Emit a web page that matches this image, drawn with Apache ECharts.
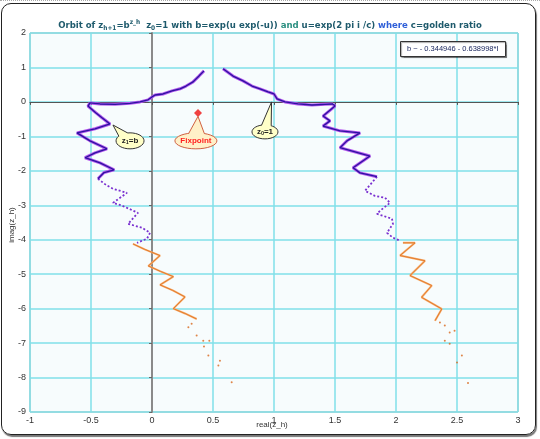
<!DOCTYPE html>
<html><head><meta charset="utf-8">
<script src="https://cdn.jsdelivr.net/npm/echarts/dist/echarts.min.js"></script>
<style>
html,body{margin:0;padding:0;background:#fff;}
#wrap{position:relative;width:540px;height:439px;overflow:hidden;}
#chart{position:absolute;left:0;top:0;width:540px;height:439px;}
#frame{position:absolute;left:1px;top:3px;width:533px;height:430px;border:1.5px solid #222;border-radius:10px;box-shadow:1px 2px 1px #777;pointer-events:none;}
#topline{position:absolute;left:0;top:0;width:540px;height:0;border-top:1px dotted #aaa;}
</style></head>
<body><div id="wrap"><div id="chart"></div><div id="frame"></div><div id="topline"></div></div>
<script>
// ---- data (real, imag) ----
const arcLeft = [[0.426,0.90],[0.385,0.75],[0.336,0.58],[0.279,0.46],[0.23,0.38],[0.164,0.32],[0.09,0.23],[0.025,0.20],[0.0,0.145],[-0.033,0.06],[-0.098,0.0],[-0.18,-0.04],[-0.303,-0.07],[-0.426,-0.06],[-0.508,-0.03]];
const arcRight = [[0.582,0.96],[0.664,0.75],[0.746,0.61],[0.82,0.46],[0.885,0.38],[0.951,0.29],[1.0,0.23],[1.025,0.09],[1.09,0.0],[1.197,-0.06],[1.311,-0.09],[1.418,-0.07],[1.484,-0.06]];
const leftSolid = [[-0.508,-0.03],[-0.525,-0.12],[-0.459,-0.32],[-0.41,-0.46],[-0.344,-0.64],[-0.467,-0.78],[-0.615,-0.90],[-0.508,-1.13],[-0.369,-1.36],[-0.467,-1.48],[-0.549,-1.62],[-0.426,-1.77],[-0.31,-1.97],[-0.393,-2.05],[-0.443,-2.23]];
const leftDashed = [[-0.443,-2.23],[-0.377,-2.41],[-0.32,-2.52],[-0.205,-2.64],[-0.32,-2.93],[-0.246,-3.01],[-0.115,-3.22],[-0.197,-3.54],[-0.082,-3.65],[-0.016,-3.80],[-0.041,-3.97],[-0.123,-4.09]];
const leftOrange = [[-0.156,-4.12],[-0.06,-4.28],[0.066,-4.46],[-0.03,-4.76],[0.07,-4.92],[0.175,-5.07],[0.066,-5.31],[0.17,-5.47],[0.27,-5.66],[0.175,-6.0],[0.27,-6.14],[0.366,-6.30]];
const leftDots = [[0.325,-6.44],[0.298,-6.54],[0.366,-6.78],[0.42,-6.93],[0.47,-6.93],[0.426,-7.10],[0.462,-7.36],[0.557,-7.51],[0.544,-7.65],[0.653,-8.14]];
const rightSolid = [[1.484,-0.06],[1.5,-0.12],[1.402,-0.41],[1.459,-0.55],[1.402,-0.70],[1.541,-0.84],[1.705,-0.90],[1.598,-1.13],[1.541,-1.33],[1.787,-1.57],[1.648,-1.91],[1.705,-2.06],[1.844,-2.17]];
const rightDashed = [[1.844,-2.17],[1.746,-2.58],[1.828,-2.73],[1.91,-2.78],[1.951,-2.93],[1.869,-3.16],[1.844,-3.25],[1.967,-3.39],[1.975,-3.54],[1.926,-3.80],[1.975,-3.94],[2.033,-4.03]];
const rightOrange = [[2.057,-4.09],[2.156,-4.09],[2.033,-4.46],[2.238,-4.61],[2.115,-5.04],[2.293,-5.33],[2.21,-5.67],[2.375,-6.01],[2.32,-6.35]];
const rightDots = [[2.36,-6.40],[2.40,-6.49],[2.44,-6.69],[2.48,-6.64],[2.40,-6.93],[2.44,-7.02],[2.54,-7.36],[2.50,-7.56],[2.59,-8.16]];
const fixpoint = [[0.377,-0.32]];
const legendText = 'b ~ - 0.344946 - 0.638998*I';
const xTicks = {min:-1, max:3, step:0.5};
const yTicks = {min:-9, max:2, step:1};

const chart = echarts.init(document.getElementById('chart'), null, {renderer:'canvas'});
const FF = "'Liberation Sans', Arial, sans-serif";
const TF = "'DejaVu Sans Condensed', 'Liberation Sans', sans-serif";

function lineSeries(data, color, width, type, z){
  return {type:'line', data:data, showSymbol:false, symbol:'none', smooth:false, z:z||2,
    lineStyle:{color:color, width:width, type:type||'solid'}, silent:true, animation:false};
}
function dots(data, color, size){
  return {type:'scatter', data:data, symbol:'circle', symbolSize:size, itemStyle:{color:color}, z:3, silent:true, animation:false};
}
const PU='#b456ee', NV='#2c14a0';
const series = [
  lineSeries(arcLeft,PU,3,'solid',2), lineSeries(arcLeft,NV,1.3,'solid',3),
  lineSeries(arcRight,PU,3,'solid',2), lineSeries(arcRight,NV,1.3,'solid',3),
  lineSeries(leftSolid,PU,3,'solid',2), lineSeries(leftSolid,NV,1.3,'solid',3),
  lineSeries(rightSolid,PU,3,'solid',2), lineSeries(rightSolid,NV,1.3,'solid',3),
  lineSeries(leftDashed,'#7a30d0',1.8,[2,2],2),
  lineSeries(rightDashed,'#7a30d0',1.8,[2,2],2),
  lineSeries(leftOrange,'#f8b070',2,'solid',2), lineSeries(leftOrange,'#dc6e20',0.8,'solid',3),
  lineSeries(rightOrange,'#f8b070',2,'solid',2), lineSeries(rightOrange,'#dc6e20',0.8,'solid',3),
  dots(leftDots,'#d8661a',2), dots(rightDots,'#d8661a',2),
  {type:'scatter', data:fixpoint, symbol:'diamond', symbolSize:8, itemStyle:{color:'#ee1111'}, z:5, silent:true, animation:false}
];

const splitStyle = {color:'#80e0e8', width:1.5};
chart.setOption({
  animation:false,
  title:[{
    text:'{a|Orbit of z}{s|h+1}{a|=b}{p|z_h}{a|  z}{s|0}{a|=1 with b=exp(u exp(-u)) }{g|and}{a| u=exp(2 pi i /c) }{w|where}{a| c=golden ratio}',
    left:'center', top:14,
    textStyle:{rich:{
      a:{fontSize:9.5,fontWeight:'bold',color:'#1e5a6c',fontFamily:TF,lineHeight:13},
      g:{fontSize:9.5,fontWeight:'bold',color:'#2b8f80',fontFamily:TF,lineHeight:13},
      w:{fontSize:9.5,fontWeight:'bold',color:'#2f5fd8',fontFamily:TF,lineHeight:13},
      s:{fontSize:6.5,fontWeight:'bold',color:'#1e5a6c',fontFamily:TF,lineHeight:8,verticalAlign:'bottom'},
      p:{fontSize:6.5,fontWeight:'bold',color:'#1e5a6c',fontFamily:TF,lineHeight:8,verticalAlign:'top'}
    }}
  },{
    text:legendText, left:400, top:41, padding:[4,7,4,7],
    borderColor:'#333', borderWidth:1, backgroundColor:'#fff',
    shadowColor:'rgba(0,0,0,0.35)', shadowBlur:1, shadowOffsetX:1, shadowOffsetY:1,
    textStyle:{fontSize:7.5,color:'#13205a',fontFamily:FF,fontWeight:'normal'}
  }],
  grid:{left:30, top:33, width:488, height:379, show:true, borderColor:'#a0a0a0', borderWidth:1, backgroundColor:'#f7fcfd', containLabel:false},
  xAxis:{type:'value', min:xTicks.min, max:xTicks.max, interval:xTicks.step,
    axisLine:{onZero:true, lineStyle:{color:'#555',width:1.2}},
    axisTick:{show:true,length:3,lineStyle:{color:'#555'}},
    axisLabel:{fontSize:9,color:'#333',margin:4,fontFamily:FF,showMinLabel:true,showMaxLabel:true},
    splitLine:{show:true,lineStyle:splitStyle}},
  yAxis:{type:'value', min:yTicks.min, max:yTicks.max, interval:yTicks.step,
    axisLine:{onZero:true, lineStyle:{color:'#8a8a8a',width:2}},
    axisTick:{show:true,length:3,lineStyle:{color:'#666'}},
    axisLabel:{fontSize:9,color:'#333',margin:4,fontFamily:FF,showMinLabel:true,showMaxLabel:true},
    splitLine:{show:true,lineStyle:splitStyle}},
  series:series
});

// ---- callouts ----
const callouts = [
  {text:'{t|z}{s|1}{t|=b}', center:[-0.18,-1.13], tip:[-0.32,-0.67], rx:14, ry:8, fill:'#ffffc8', stroke:'#333', color:'#222'},
  {text:'{t|Fixpoint}', center:[0.36,-1.13], tip:[0.377,-0.42], rx:21, ry:8, fill:'#fff0c8', stroke:'#d06040', color:'#ff2020'},
  {text:'{t|z}{s|0}{t|=1}', center:[0.926,-0.87], tip:[0.98,0.0], rx:13, ry:7, fill:'#ffffc8', stroke:'#333', color:'#222'}
];
const gfx = [];
callouts.forEach(function(c){
  const p = chart.convertToPixel({gridIndex:0}, c.center);
  const t = chart.convertToPixel({gridIndex:0}, c.tip);
  const cx=p[0], cy=p[1], rx=c.rx, ry=c.ry;
  const ang = Math.atan2((t[1]-cy)/ry, (t[0]-cx)/rx);
  const d=0.38;
  const b1=[cx+rx*Math.cos(ang-d), cy+ry*Math.sin(ang-d)];
  const b2=[cx+rx*Math.cos(ang+d), cy+ry*Math.sin(ang+d)];
  const i1=[cx+0.8*rx*Math.cos(ang-d), cy+0.8*ry*Math.sin(ang-d)];
  const i2=[cx+0.8*rx*Math.cos(ang+d), cy+0.8*ry*Math.sin(ang+d)];
  gfx.push({type:'ellipse', shape:{cx:cx,cy:cy,rx:rx,ry:ry}, style:{fill:c.fill,stroke:c.stroke,lineWidth:1}, z:100});
  gfx.push({type:'polygon', shape:{points:[i1,b1,t,b2,i2]}, style:{fill:c.fill,stroke:null}, z:101});
  gfx.push({type:'polyline', shape:{points:[b1,t,b2]}, style:{stroke:c.stroke,lineWidth:1,fill:null}, z:102});
  gfx.push({type:'text', x:cx, y:cy, style:{text:c.text, align:'center', verticalAlign:'middle',
    rich:{t:{fontSize:8,fontWeight:'bold',fill:c.color,fontFamily:FF,lineHeight:10},
          s:{fontSize:5.5,fontWeight:'bold',fill:c.color,fontFamily:FF,lineHeight:6,verticalAlign:'bottom'}}}, z:103});
});
gfx.push({type:'text', x:12, y:225, rotation:Math.PI/2, style:{text:'imag(z_h)', align:'center', verticalAlign:'middle', fontSize:8, fill:'#333', fontFamily:FF}, z:50});
gfx.push({type:'text', x:272, y:425, style:{text:'real(z_h)', align:'center', verticalAlign:'middle', fontSize:8, fill:'#333', fontFamily:FF}, z:50});
chart.setOption({graphic:gfx});
</script></body></html>
